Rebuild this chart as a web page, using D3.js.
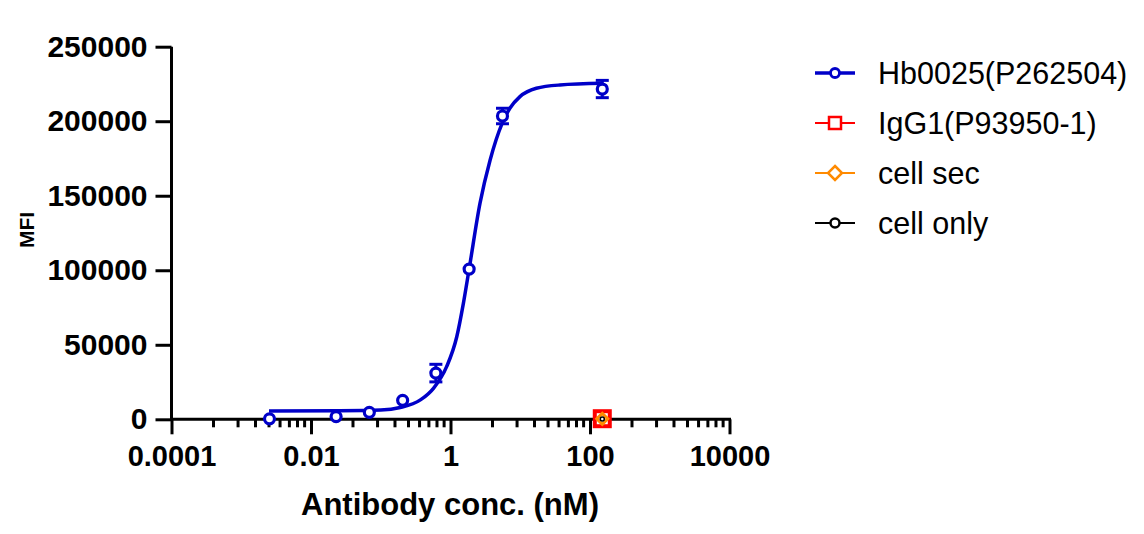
<!DOCTYPE html>
<html>
<head>
<meta charset="utf-8">
<script src="https://cdn.jsdelivr.net/npm/d3@7"></script>
<style>
  body { margin: 0; background: #fff; }
  svg { display: block; font-family: "Liberation Sans", Arial, sans-serif; }
</style>
</head>
<body>
<div id="chart"></div>
<script>
// measured points (nM, MFI)
const hbConc = [0.00254, 0.0229, 0.0686, 0.206, 0.617, 1.85, 5.56, 150];
const hbMFI  = [300, 1800, 4700, 12700, 31000, 100800, 203500, 221600];
const hbErr  = [0, 0, 0, 0, 5900, 0, 5200, 5800];

// fitted curve
const fitConc = [0.0025, 0.026, 0.1, 0.19, 0.37, 0.57, 0.88, 1.23, 1.53, 1.86, 2.65, 3.7, 5.5, 7.1, 9.9, 17, 37, 150];
const fitMFI  = [5500, 5700, 6200, 7900, 13000, 20800, 35300, 55400, 77800, 101500, 145000, 174000, 198600, 208700, 216500, 222100, 224300, 225400];

// controls, one point each at top conc
const ctrlConc = 150;
const igg1MFI = 400;
const cellSecMFI = 300;
const cellOnlyMFI = 200;

const legendNames = ["Hb0025(P262504)", "IgG1(P93950-1)", "cell sec", "cell only"];
const legendColors = ["#0000c8", "#ff0000", "#ff8a00", "#000000"];
const legendShapes = ["circle", "square", "diamond", "circle"];

const xMajor = [1e-4, 1e-2, 1, 1e2, 1e4];
const xMajorLabels = ["0.0001", "0.01", "1", "100", "10000"];
const yTicks = [0, 50000, 100000, 150000, 200000, 250000];

const W = 1144, H = 534;
const svg = d3.select("#chart").append("svg")
  .attr("width", W)
  .attr("height", H);

const x = d3.scaleLog().domain([1e-4, 1e4]).range([171.5, 729.5]);
const y = d3.scaleLinear().domain([0, 250000]).range([419.3, 46.7]);

// minor ticks: prism style, k^2 steps inside each two-decade interval
const xMinor = [];
for (let i = 0; i < xMajor.length - 1; i++) {
  for (let k = 2; k <= 9; k++) xMinor.push(xMajor[i] * k * k);
}

// y axis
const yAxis = svg.append("g")
  .attr("transform", `translate(${x.range()[0]},0)`)
  .call(d3.axisLeft(y).tickValues(yTicks).tickSize(16).tickPadding(8).tickFormat(d3.format("d")));
yAxis.select(".domain").attr("d", `M0,${y(250000)}V${y(0)}`).attr("stroke-width", 3);
yAxis.selectAll(".tick line").attr("stroke-width", 3);
yAxis.selectAll(".tick text")
  .attr("font-size", 30).attr("font-weight", "bold").attr("fill", "#000")
  .attr("font-family", "Liberation Sans, Arial, sans-serif");

// x axis
const xAxis = svg.append("g")
  .attr("transform", `translate(0,${y(0)})`)
  .call(d3.axisBottom(x).tickValues(xMajor).tickSize(15).tickPadding(11)
    .tickFormat((d, i) => xMajorLabels[i]));
xAxis.select(".domain").attr("d", `M${x.range()[0] - 1.5},0H${x.range()[1] + 1.5}`).attr("stroke-width", 3);
xAxis.selectAll(".tick line").attr("stroke-width", 3);
xAxis.selectAll(".tick text")
  .attr("font-size", 29).attr("font-weight", "bold").attr("fill", "#000")
  .attr("font-family", "Liberation Sans, Arial, sans-serif");

xAxis.selectAll(".minor")
  .data(xMinor)
  .enter().append("line")
  .attr("class", "minor")
  .attr("x1", d => x(d)).attr("x2", d => x(d))
  .attr("y1", 0).attr("y2", 8)
  .attr("stroke", "#000").attr("stroke-width", 3);

// axis titles
svg.append("text")
  .attr("x", 450)
  .attr("y", 515)
  .attr("text-anchor", "middle")
  .attr("font-size", 31)
  .attr("font-weight", "bold")
  .text("Antibody conc. (nM)");

svg.append("text")
  .attr("transform", "translate(34,230) rotate(-90)")
  .attr("text-anchor", "middle")
  .attr("font-size", 21)
  .attr("font-weight", "bold")
  .text("MFI");

// fitted curve
const line = d3.line()
  .x((d, i) => x(fitConc[i]))
  .y(d => y(d))
  .curve(d3.curveMonotoneX);

svg.append("path")
  .datum(fitMFI)
  .attr("d", line)
  .attr("fill", "none")
  .attr("stroke", legendColors[0])
  .attr("stroke-width", 3.5);

// symbols
function drawMarker(g, shape, color, cx, cy, size, sw) {
  if (shape === "circle") {
    g.append("circle")
      .attr("cx", cx).attr("cy", cy).attr("r", size)
      .attr("fill", "#fff").attr("stroke", color).attr("stroke-width", sw);
  } else if (shape === "square") {
    g.append("rect")
      .attr("x", cx - size).attr("y", cy - size)
      .attr("width", size * 2).attr("height", size * 2)
      .attr("fill", "#fff").attr("stroke", color).attr("stroke-width", sw);
  } else {
    g.append("path")
      .attr("d", `M${cx},${cy - size}L${cx + size},${cy}L${cx},${cy + size}L${cx - size},${cy}Z`)
      .attr("fill", "#fff").attr("stroke", color).attr("stroke-width", sw);
  }
}

// error bars
const errG = svg.append("g");
hbConc.forEach((c, i) => {
  if (!hbErr[i]) return;
  const cx = x(c);
  const top = y(hbMFI[i] + hbErr[i]), bot = y(hbMFI[i] - hbErr[i]);
  errG.append("line").attr("x1", cx).attr("x2", cx).attr("y1", top).attr("y2", bot)
    .attr("stroke", legendColors[0]).attr("stroke-width", 3);
  [top, bot].forEach(yy => errG.append("line")
    .attr("x1", cx - 6.5).attr("x2", cx + 6.5).attr("y1", yy).attr("y2", yy)
    .attr("stroke", legendColors[0]).attr("stroke-width", 3));
});

const ptG = svg.append("g");
hbConc.forEach((c, i) => drawMarker(ptG, "circle", legendColors[0], x(c), y(hbMFI[i]), 5, 3.2));

// control points at top concentration
drawMarker(ptG, "square", legendColors[1], x(ctrlConc), y(igg1MFI), 7.5, 4);
drawMarker(ptG, "diamond", legendColors[2], x(ctrlConc), y(cellSecMFI), 5.5, 3);
drawMarker(ptG, "circle", legendColors[3], x(ctrlConc), y(cellOnlyMFI), 2, 1.5);

// legend
const legend = svg.append("g").attr("transform", "translate(815,73)");
legendNames.forEach((name, i) => {
  const row = legend.append("g").attr("transform", `translate(0,${i * 50})`);
  row.append("line")
    .attr("x1", 0).attr("x2", 40).attr("y1", 0).attr("y2", 0)
    .attr("stroke", legendColors[i]).attr("stroke-width", i === 0 ? 3.5 : 2);
  const sz = legendShapes[i] === "square" ? 6 : (legendShapes[i] === "diamond" ? 7 : 4.5);
  drawMarker(row, legendShapes[i], legendColors[i], 20, 0, sz, i === 0 ? 2.8 : 2.5);
  row.append("text")
    .attr("x", 63)
    .attr("y", 10.5)
    .attr("font-size", 30.5)
    .attr("fill", "#000")
    .text(name);
});
</script>
</body>
</html>
